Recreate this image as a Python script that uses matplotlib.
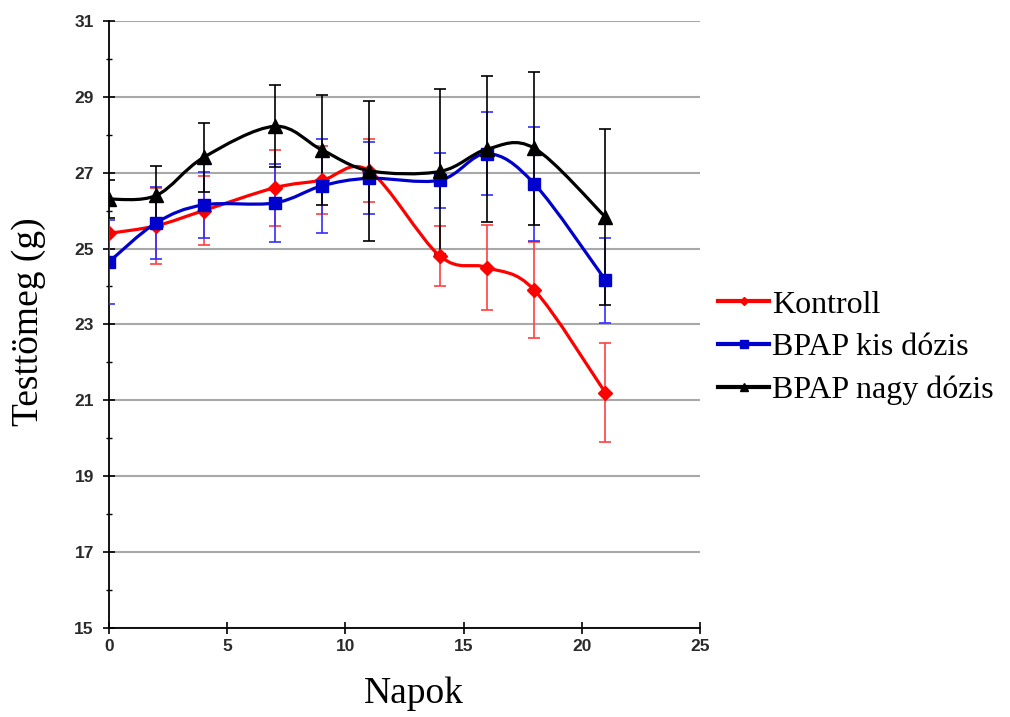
import numpy as np
import matplotlib
matplotlib.use("Agg")
import matplotlib.pyplot as plt
from matplotlib.path import Path
from matplotlib.patches import PathPatch
from matplotlib.ticker import MultipleLocator
from matplotlib.lines import Line2D

days = [0, 2, 4, 7, 9, 11, 14, 16, 18, 21]

kontroll = [25.4, 25.6, 26.0, 26.6, 26.8, 27.05, 24.8, 24.5, 23.9, 21.2]
kontroll_err = [0.9, 1.0, 0.9, 1.0, 0.9, 0.83, 0.8, 1.13, 1.26, 1.3]

kis = [24.65, 25.68, 26.15, 26.2, 26.65, 26.85, 26.8, 27.5, 26.7, 24.17]
kis_err = [1.1, 0.95, 0.87, 1.03, 1.23, 0.95, 0.73, 1.09, 1.5, 1.12]

nagy = [26.3, 26.4, 27.4, 28.22, 27.6, 27.05, 27.03, 27.62, 27.64, 25.83]
nagy_err = [0.5, 0.78, 0.9, 1.08, 1.45, 1.85, 2.18, 1.93, 2.02, 2.33]

labels = ["Kontroll", "BPAP kis dózis", "BPAP nagy dózis"]
yticks = [15, 17, 19, 21, 23, 25, 27, 29, 31]


def smooth_path(x, y):
    # bezier path through the points (like a spreadsheet "smoothed line")
    x = np.asarray(x, float)
    y = np.asarray(y, float)
    n = len(x)
    verts = [(x[0], y[0])]
    codes = [Path.MOVETO]
    for i in range(n - 1):
        i0 = max(i - 1, 0)
        i3 = min(i + 2, n - 1)
        c1 = (x[i] + (x[i + 1] - x[i0]) / 6, y[i] + (y[i + 1] - y[i0]) / 6)
        c2 = (x[i + 1] - (x[i3] - x[i]) / 6, y[i + 1] - (y[i3] - y[i]) / 6)
        verts += [c1, c2, (x[i + 1], y[i + 1])]
        codes += [Path.CURVE4] * 3
    return Path(verts, codes)


fig = plt.figure(figsize=(10.1, 7.17), dpi=100)
ax = fig.add_axes([0.108, 0.124, 0.585, 0.847])

series = [
    (kontroll, kontroll_err, "#FF0000", "#FF4040", "D", 7.5),
    (kis, kis_err, "#0000CC", "#3030FF", "s", 9),
    (nagy, nagy_err, "#000000", "#000000", "^", 9.5),
]

handles = []
for k, (vals, err, col, ecol, mk, ms) in enumerate(series):
    ax.errorbar(days, vals, yerr=err, fmt="none", ecolor=ecol, elinewidth=1.2,
                capsize=4, capthick=1.2, zorder=3 + k * 0.1)
    patch = PathPatch(smooth_path(days, vals), facecolor="none", edgecolor=col,
                      lw=2.3, zorder=4 + k)
    ax.add_patch(patch)
    ax.plot(days, vals, linestyle="none", marker=mk, markersize=ms, color=col,
            zorder=4.5 + k)
    handles.append(Line2D([], [], color=col, lw=3, marker=mk, markersize=ms * 0.6))

ax.set_xlim(0, 25)
ax.set_ylim(15, 31)
ax.xaxis.set_major_locator(MultipleLocator(5))
ax.set_yticks(yticks)
ax.yaxis.set_minor_locator(MultipleLocator(1))
ax.grid(axis="y", which="major", color="#A8A8A8", lw=1.5, zorder=1)
ax.set_axisbelow(True)

for s in ["top", "right"]:
    ax.spines[s].set_visible(False)
for s in ["left", "bottom"]:
    ax.spines[s].set_linewidth(1.3)

ax.tick_params(axis="both", which="major", direction="inout", length=8, width=1.2,
               labelsize=12.5, labelcolor="#2a2a2a")
ax.tick_params(axis="y", which="major", pad=7)
ax.tick_params(axis="y", which="minor", direction="inout", length=5, width=1.0)
for lab in ax.get_xticklabels() + ax.get_yticklabels():
    lab.set_fontweight("bold")
    lab.set_family("Liberation Sans")

ax.set_xlabel("Napok", family="Liberation Serif", fontsize=27)
ax.xaxis.set_label_coords(0.515, -0.08)
ax.set_ylabel("Testtömeg (g)", family="Liberation Serif", fontsize=27)
ax.yaxis.set_label_coords(-0.106, 0.504)

fig.legend(handles, labels, loc="center left", bbox_to_anchor=(0.711, 0.515),
           frameon=False, handlelength=1.6, handletextpad=0.1, labelspacing=0.42,
           prop={"family": "Liberation Serif", "size": 23}, borderaxespad=0,
           borderpad=0)

fig.savefig("out.png", dpi=100)
